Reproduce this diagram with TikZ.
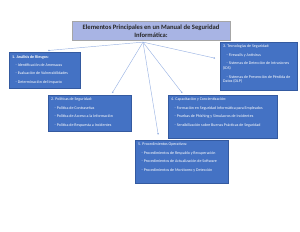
\documentclass[tikz,border=0pt]{standalone}
\usepackage{fontspec}
\setmainfont{Carlito}
\usetikzlibrary{arrows.meta, calc}
\definecolor{boxblue}{RGB}{68,114,196}
\definecolor{boxedge}{RGB}{52,90,160}
\definecolor{titlefill}{RGB}{168,180,228}
\definecolor{linkblue}{RGB}{155,180,228}
\newcommand{\boxtext}[3]{\parbox[t][#2][t]{#1}{\raggedright #3}}
\newcommand{\itm}{\hspace*{3.5pt}- }

\begin{document}
\begin{tikzpicture}[x=1pt, y=-1pt,
    topic/.style={draw=boxedge, line width=0.4pt, fill=boxblue, text=white, anchor=north west,
        inner sep=3pt, font=\fontsize{4}{4.9}\selectfont},
    link/.style={draw=linkblue, line width=0.45pt, -{Circle[length=1.6pt]}}]

    \useasboundingbox (0,0) rectangle (300,232);

    % Title
    \node[draw=gray!70, fill=titlefill, minimum width=158pt, minimum height=18pt, align=center,
        font=\fontsize{6.6}{7.5}\selectfont\bfseries, text=black!85] (T) at (151,31)
        {Elementos Principales en un Manual de Seguridad\\Informática:};
    \coordinate (H) at ([xshift=-8pt,yshift=-1.5pt]T.south);

    % Topic boxes
    \node[topic] (R) at (9,52) {\boxtext{65pt}{30pt}{\textbf{1. Análisis de Riesgos:}\\[3.5pt]
        \itm Identificación de Amenazas\\[3.5pt]
        \itm Evaluación de Vulnerabilidades\\[3.5pt]
        \itm Determinación del Impacto}};
    \node[topic] (P) at (48,95) {\boxtext{77pt}{30pt}{2. Políticas de Seguridad:\\[3.5pt]
        \itm Política de Contraseñas\\[3.5pt]
        \itm Política de Acceso a la Información\\[3.5pt]
        \itm Política de Respuesta a Incidentes}};
    \node[topic] (S) at (220,42) {\boxtext{71pt}{42pt}{3. Tecnologías de Seguridad:\\[3.5pt]
        \itm Firewalls y Antivirus\\[3.5pt]
        \itm Sistemas de Detección de Intrusiones\\(IDS)\\[3.5pt]
        \itm Sistemas de Prevención de Pérdida de\\Datos (DLP)}};
    \node[topic] (C) at (168,95) {\boxtext{103pt}{37pt}{4. Capacitación y Concientización:\\[3.5pt]
        \itm Formación en Seguridad Informática para Empleados\\[3.5pt]
        \itm Pruebas de Phishing y Simulacros de Incidentes\\[3.5pt]
        \itm Sensibilización sobre Buenas Prácticas de Seguridad}};
    \node[topic] (O) at (135,140) {\boxtext{87pt}{37pt}{5. Procedimientos Operativos:\\[3.5pt]
        \itm Procedimientos de Respaldo y Recuperación\\[3.5pt]
        \itm Procedimientos de Actualización de Software\\[3.5pt]
        \itm Procedimientos de Monitoreo y Detección}};

    % Connectors
    \draw[link] (H) -- ([xshift=3.5pt,yshift=1.5pt]R.north);
    \draw[link] (H) -- ([xshift=22.5pt,yshift=2pt]P.north);
    \draw[link] (H) -- ([xshift=-5pt,yshift=8pt]S.west);
    \draw[link] (H) -- ([xshift=-40.5pt,yshift=2pt]C.north);
    \draw[link] (H) -- ([xshift=-23.5pt,yshift=5.5pt]O.north);
\end{tikzpicture}
\end{document}
